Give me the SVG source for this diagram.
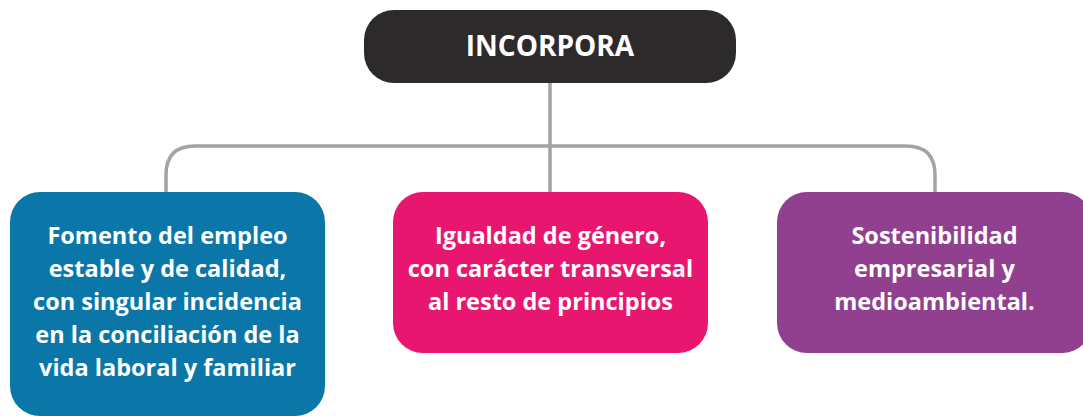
<svg xmlns="http://www.w3.org/2000/svg" width="1083" height="416" viewBox="0 0 1083 416">
<style>
.t{font-family:"Open Sans","Liberation Sans",sans-serif;font-weight:bold;fill:#fff;text-anchor:middle}
.b{font-size:23.5px}
.h{font-size:28px}
.c{fill:none;stroke:#a3a3a3;stroke-width:3.5}
</style>
<rect width="1083" height="416" fill="#fff"/>
<g id="connectors">
<path class="c" d="M550 82 V192"/>
<path class="c" d="M166 192 V175 Q166 146 195 146 H906 Q935 146 935 175 V192"/>
</g>
<g id="incorpora">
<rect x="364" y="10" width="372" height="73" rx="30" fill="#2d2a2b"/>
<text class="t h" x="550" y="56">INCORPORA</text>
</g>
<g id="fomento">
<rect x="10" y="192" width="315" height="224" rx="30" fill="#0a77a8"/>
<text class="t b" x="167.5" y="244">Fomento del empleo</text>
<text class="t b" x="167.5" y="277">estable y de calidad,</text>
<text class="t b" x="167.5" y="310">con singular incidencia</text>
<text class="t b" x="167.5" y="343">en la conciliación de la</text>
<text class="t b" x="167.5" y="376">vida laboral y familiar</text>
</g>
<g id="igualdad">
<rect x="393" y="192" width="315" height="161" rx="30" fill="#e8166f"/>
<text class="t b" x="550.5" y="244">Igualdad de género,</text>
<text class="t b" x="550.5" y="277">con carácter transversal</text>
<text class="t b" x="550.5" y="310">al resto de principios</text>
</g>
<g id="sostenibilidad">
<rect x="777" y="192" width="315" height="161" rx="30" fill="#91408f"/>
<text class="t b" x="934.5" y="244">Sostenibilidad</text>
<text class="t b" x="934.5" y="277">empresarial y</text>
<text class="t b" x="934.5" y="310">medioambiental.</text>
</g>
</svg>
